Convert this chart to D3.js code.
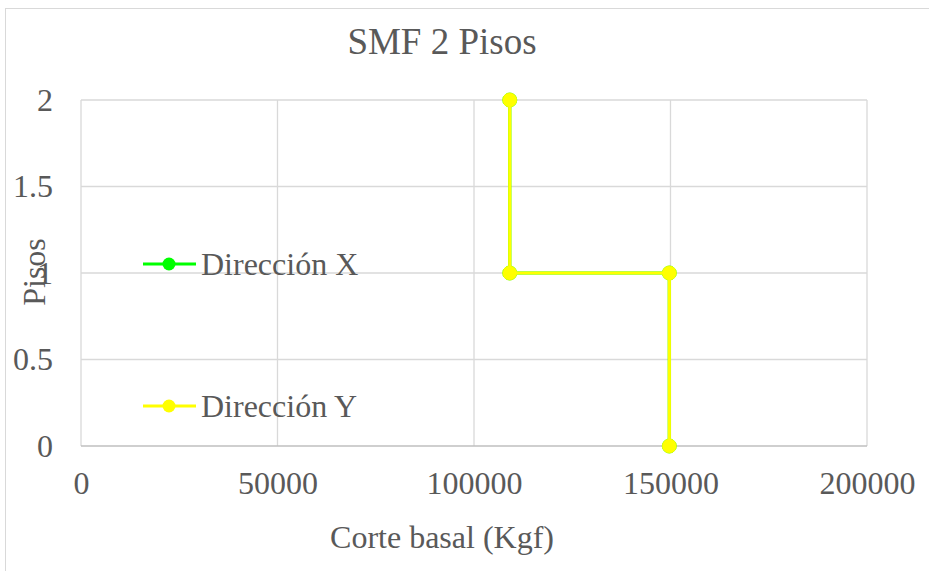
<!DOCTYPE html>
<html><head><meta charset="utf-8">
<script src="https://cdn.jsdelivr.net/npm/d3@7"></script>
<style>body{margin:0;background:#fff}svg{display:block}</style>
</head><body>
<svg id="c" width="929" height="571"></svg>
<script>
const title = "SMF 2 Pisos";
const xTitle = "Corte basal (Kgf)";
const yTitle = "Pisos";
const seriesNames = ["Dirección X", "Dirección Y"];
const seriesColors = ["#00ff00", "#ffff00"];
const xTicks = [0, 50000, 100000, 150000, 200000];
const yTicks = [0, 0.5, 1, 1.5, 2];
const pisos = [0, 1, 1, 2];
const corteX = [149700, 149700, 109100, 109100];
const corteY = [149700, 149700, 109100, 109100];
const seriesValues = [corteX, corteY];

const svg = d3.select("#c");
const font = "'Liberation Serif','Times New Roman',serif";
const txt = "#595959";
svg.append("rect").attr("x",5.5).attr("y",8.5).attr("width",930).attr("height",570)
  .attr("fill","#fff").attr("stroke","#d9d9d9");

const x = d3.scaleLinear().domain([0,200000]).range([81,867]);
const y = d3.scaleLinear().domain([0,2]).range([446,100]);

const g = svg.append("g");
g.selectAll(".vg").data(xTicks).join("line")
  .attr("x1",d=>x(d)).attr("x2",d=>x(d)).attr("y1",y(2)).attr("y2",y(0))
  .attr("stroke","#d9d9d9").attr("stroke-width",1.3);
g.selectAll(".hg").data(yTicks).join("line")
  .attr("x1",x(0)).attr("x2",x(200000)).attr("y1",d=>y(d)).attr("y2",d=>y(d))
  .attr("stroke",d=>d===0?"#bfbfbf":"#d9d9d9").attr("stroke-width",1.3);

const xAxis = d3.axisBottom(x).tickValues(xTicks).tickSize(0).tickPadding(25).tickFormat(d3.format("d"));
const xa = svg.append("g").attr("transform",`translate(0,${y(0)})`).call(xAxis);
xa.select(".domain").remove();
xa.selectAll("text").attr("font-family",font).attr("font-size",32).attr("fill",txt).attr("dy","0.71em");

const yAxis = d3.axisLeft(y).tickValues(yTicks).tickSize(0).tickPadding(28).tickFormat(d=>String(d));
const ya = svg.append("g").attr("transform",`translate(${x(0)},0)`).call(yAxis);
ya.select(".domain").remove();
ya.selectAll("text").attr("font-family",font).attr("font-size",32).attr("fill",txt).attr("dy","0.32em");

const line = d3.line().x(d=>x(d[0])).y(d=>y(d[1]));
seriesValues.forEach((vals,i)=>{
  const pts = vals.map((v,j)=>[v,pisos[j]]);
  svg.append("path").datum(pts).attr("d",line).attr("fill","none")
    .attr("stroke",seriesColors[i]).attr("stroke-width",3.2);
  svg.selectAll(null).data(pts).join("circle").attr("cx",d=>x(d[0])).attr("cy",d=>y(d[1]))
    .attr("r",7).attr("fill",seriesColors[i]).attr("stroke",seriesColors[i]).attr("stroke-width",0.8);
});

// legend
const legY = [264, 406];
seriesNames.forEach((n,i)=>{
  const lg = svg.append("g").attr("transform",`translate(143,${legY[i]})`);
  lg.append("line").attr("x1",0).attr("x2",53).attr("stroke",seriesColors[i]).attr("stroke-width",3.2);
  lg.append("circle").attr("cx",26).attr("r",6.5).attr("fill",seriesColors[i]);
  lg.append("text").attr("x",58).attr("dy","0.34em").attr("font-family",font).attr("font-size",32)
    .attr("fill",txt).text(n);
});

svg.append("text").attr("x",442).attr("y",54).attr("text-anchor","middle")
  .attr("font-family",font).attr("font-size",37).attr("fill",txt).text(title);
svg.append("text").attr("x",442).attr("y",548).attr("text-anchor","middle")
  .attr("font-family",font).attr("font-size",32).attr("fill",txt).text(xTitle);
svg.append("text").attr("transform","translate(45,272) rotate(-90)").attr("text-anchor","middle")
  .attr("font-family",font).attr("font-size",32).attr("fill",txt).text(yTitle);
</script>
</body></html>
